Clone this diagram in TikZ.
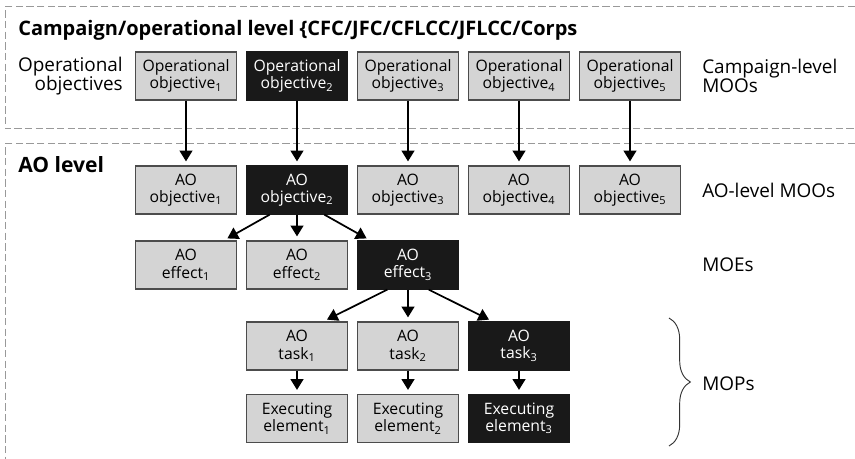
\documentclass[tikz,border=0pt]{standalone}
\usepackage{fontspec}
\setmainfont{Open Sans}
\usepackage{tikz}
\usetikzlibrary{arrows.meta}
\usetikzlibrary{decorations.pathreplacing}

\begin{document}
\begin{tikzpicture}[x=0.75pt,y=-0.75pt,
  frame/.style={draw=black!40, line width=0.75pt, dash pattern=on 5.5pt off 2.5pt},
  gbox/.style={draw=black!70, fill=black!17, line width=0.9pt, minimum width=75.5pt, minimum height=36pt,
    inner sep=0pt, align=center, text=black, font=\fontsize{11.8}{12.8}\selectfont},
  kbox/.style={gbox, draw=black!90, fill=black!90, text=white},
  lbl/.style={inner sep=0pt, text=black, font=\fontsize{14.2}{14.5}\selectfont},
  arr/.style={-{Triangle[width=9.5pt,length=8pt]}, line width=1.3pt, shorten >=3pt}]
 \useasboundingbox (0,0) rectangle (855,459);
 \draw[frame] (855,7) -- (5,7) -- (5,129) -- (855,129);
 \draw[frame] (855,144) -- (5,144) -- (5,459);

 \node[lbl, anchor=base west, font=\fontsize{15}{17}\selectfont\bfseries] (camp) at (18,36) {Campaign/operational level \{CFC/JFC/CFLCC/JFLCC/Corps};
 \node[lbl, anchor=west, font=\fontsize{15.8}{17}\selectfont\bfseries] (aolvl) at (18,165) {AO level};
 \node[lbl, anchor=east, align=right] (opobj) at (123,76) {Operational\\objectives};

 \node[gbox] (o1) at (186,76) {Operational\\objective\textsubscript{1}};
 \node[kbox] (o2) at (297,76) {Operational\\objective\textsubscript{2}};
 \node[gbox] (o3) at (408,76) {Operational\\objective\textsubscript{3}};
 \node[gbox] (o4) at (519,76) {Operational\\objective\textsubscript{4}};
 \node[gbox] (o5) at (630,76) {Operational\\objective\textsubscript{5}};

 \node[gbox] (a1) at (186,190) {AO\\objective\textsubscript{1}};
 \node[kbox] (a2) at (297,190) {AO\\objective\textsubscript{2}};
 \node[gbox] (a3) at (408,190) {AO\\objective\textsubscript{3}};
 \node[gbox] (a4) at (519,190) {AO\\objective\textsubscript{4}};
 \node[gbox] (a5) at (630,190) {AO\\objective\textsubscript{5}};

 \node[gbox] (e1) at (186,265) {AO\\effect\textsubscript{1}};
 \node[gbox] (e2) at (297,265) {AO\\effect\textsubscript{2}};
 \node[kbox] (e3) at (408,265) {AO\\effect\textsubscript{3}};

 \node[gbox] (t1) at (297,346) {AO\\task\textsubscript{1}};
 \node[gbox] (t2) at (408,346) {AO\\task\textsubscript{2}};
 \node[kbox] (t3) at (519,346) {AO\\task\textsubscript{3}};

 \node[gbox] (x1) at (297,418.5) {Executing\\element\textsubscript{1}};
 \node[gbox] (x2) at (408,418.5) {Executing\\element\textsubscript{2}};
 \node[kbox] (x3) at (519,418.5) {Executing\\element\textsubscript{3}};

 \node[lbl, anchor=west, align=left] (cmoo) at (702,76) {Campaign-level\\MOOs};
 \node[lbl, anchor=west] (amoo) at (702,190) {AO-level MOOs};
 \node[lbl, anchor=west] (moe) at (702,265) {MOEs};
 \node[lbl, anchor=west] (mop) at (702,384) {MOPs};

 \draw[arr] (o1.south) -- (a1.north);
 \draw[arr] (o2.south) -- (a2.north);
 \draw[arr] (o3.south) -- (a3.north);
 \draw[arr] (o4.south) -- (a4.north);
 \draw[arr] (o5.south) -- (a5.north);

 \draw[arr] (a2.222) -- (e1.33);
 \draw[arr] (a2.south) -- (e2.north);
 \draw[arr] (a2.318) -- (e3.147);

 \draw[arr] (e3.230) -- (t1.43);
 \draw[arr] (e3.south) -- (t2.north);
 \draw[arr] (e3.310) -- (t3.137);

 \draw[arr] (t1.south) -- (x1.north);
 \draw[arr] (t2.south) -- (x2.north);
 \draw[arr] (t3.south) -- (x3.north);

 \draw[black!80, line width=0.7pt, decorate, decoration={brace, amplitude=16pt}] (669,318) -- (669,446);
\end{tikzpicture}
\end{document}
